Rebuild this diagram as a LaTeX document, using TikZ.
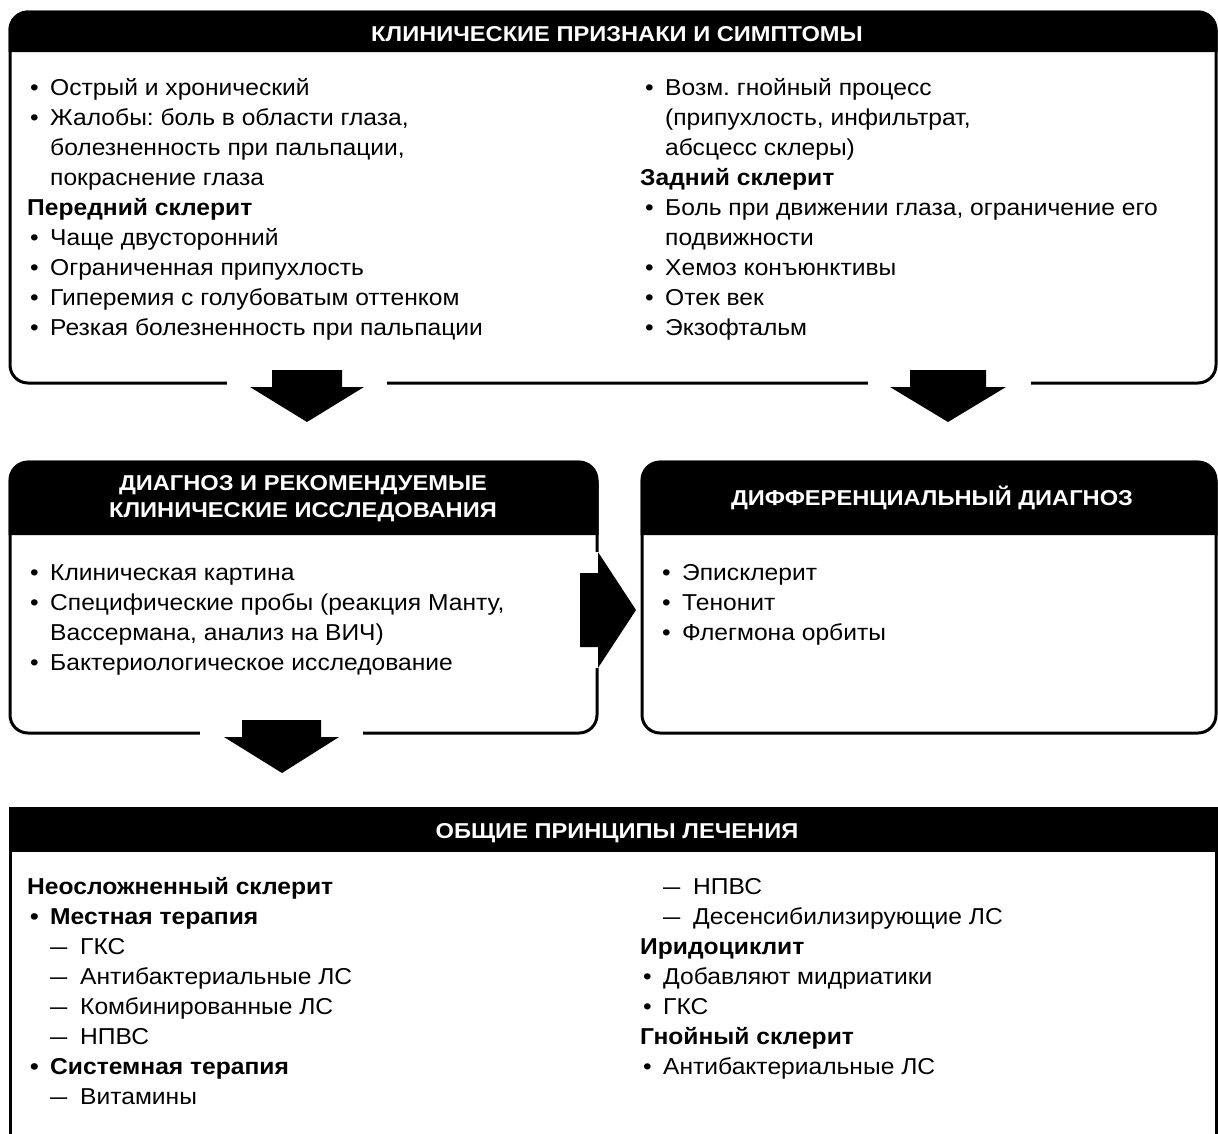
\documentclass[tikz,border=0pt]{standalone}
\usepackage{graphicx}
\usepackage{fontspec}
\setmainfont{Liberation Sans}[FakeStretch=1.07]
\newfontfamily\ttlfont{Liberation Sans}[FakeStretch=1.1]
\usetikzlibrary{calc}
\frenchspacing
\newcommand{\bl}{\hspace*{3pt}\makebox[20pt][l]{•}}
\newcommand{\ind}{\hspace*{23pt}}
\newcommand{\dsh}{\hspace*{23pt}\makebox[30pt][l]{\scalebox{0.7}[1]{—}}}
\newcommand{\col}[2]{\parbox[t]{#1}{\raggedright\frenchspacing #2}}
\begin{document}
\begin{tikzpicture}[x=1pt,y=-1pt,
  frame/.style={draw, line width=3pt, rounded corners=18pt, inner sep=0pt, outer sep=0pt, anchor=north west},
  hdr/.style={fill=black},
  ttl/.style={text=white, font=\ttlfont\bfseries\fontsize{21.5}{27}\selectfont, align=center, inner sep=0pt},
  txt/.style={anchor=base west, inner sep=0pt, font=\fontsize{23}{30.1}\selectfont},
  gap/.style={fill=white},
  blk/.style={fill=black}
]
\clip (0,0) rectangle (1218,1133);
\fill[white] (0,0) rectangle (1218,1133);

% ---------- boxes ----------
\node[frame, minimum width=1206pt, minimum height=371pt] (clin) at (10,12) {};
\node[frame, minimum width=587pt, minimum height=271pt] (diag) at (10,462) {};
\node[frame, minimum width=574pt, minimum height=271pt] (diff) at (642,462) {};
\node[frame, rounded corners=0pt, minimum width=1206pt, minimum height=360pt] (treat) at (10,808) {};

% ---------- headers ----------
\fill[hdr] (8.5,52) [rounded corners=19.5pt] -- (8.5,10.5) -- (1217.5,10.5) [sharp corners] -- (1217.5,52) -- cycle;
\fill[hdr] (8.5,535) [rounded corners=22pt] -- (8.5,460.5) -- (598.5,460.5) [sharp corners] -- (598.5,535) -- cycle;
\fill[hdr] (640.5,535) [rounded corners=22pt] -- (640.5,460.5) -- (1217.5,460.5) [sharp corners] -- (1217.5,535) -- cycle;
\fill[hdr] (8.5,806.5) rectangle (1217.5,852);

\node[ttl, anchor=base] (t1) at (617,41) {КЛИНИЧЕСКИЕ ПРИЗНАКИ И СИМПТОМЫ};
\node[ttl, anchor=center] (t2) at (303,499) {ДИАГНОЗ И РЕКОМЕНДУЕМЫЕ\\КЛИНИЧЕСКИЕ ИССЛЕДОВАНИЯ};
\node[ttl, anchor=base] (t3) at (932,505) {ДИФФЕРЕНЦИАЛЬНЫЙ ДИАГНОЗ};
\node[ttl, anchor=base] (t4) at (617,838) {ОБЩИЕ ПРИНЦИПЫ ЛЕЧЕНИЯ};

% ---------- texts ----------
\node[txt] (c1) at (27,95) {\col{590pt}{%
\bl Острый и хронический\\
\bl Жалобы: боль в области глаза,\\
\ind болезненность при пальпации,\\
\ind покраснение глаза\\
\textbf{Передний склерит}\\
\bl Чаще двусторонний\\
\bl Ограниченная припухлость\\
\bl Гиперемия с голубоватым оттенком\\
\bl Резкая болезненность при пальпации}};

\node[txt] (c2) at (642,95) {\col{570pt}{%
\bl Возм. гнойный процесс\\
\ind (припухлость, инфильтрат,\\
\ind абсцесс склеры)\\
\hspace*{-2pt}\textbf{Задний склерит}\\
\bl Боль при движении глаза, ограничение его\\
\ind подвижности\\
\bl Хемоз конъюнктивы\\
\bl Отек век\\
\bl Экзофтальм}};

\node[txt] (d1) at (27,580) {\col{560pt}{%
\bl Клиническая картина\\
\bl Специфические пробы (реакция Манту,\\
\ind Вассермана, анализ на ВИЧ)\\
\bl Бактериологическое исследование}};

\node[txt] (d2) at (659,580) {\col{540pt}{%
\bl Эписклерит\\
\bl Тенонит\\
\bl Флегмона орбиты}};

\node[txt] (e1) at (27,894) {\col{590pt}{%
\textbf{Неосложненный склерит}\\
\textbf{\bl Местная терапия}\\
\dsh ГКС\\
\dsh Антибактериальные ЛС\\
\dsh Комбинированные ЛС\\
\dsh НПВС\\
\textbf{\bl Системная терапия}\\
\dsh Витамины}};

\node[txt] (e2) at (640,894) {\col{570pt}{%
\dsh НПВС\\
\dsh Десенсибилизирующие ЛС\\
\textbf{Иридоциклит}\\
\bl Добавляют мидриатики\\
\bl ГКС\\
\textbf{Гнойный склерит}\\
\bl Антибактериальные ЛС}};

% ---------- block arrows ----------
\coordinate (a1) at ($(clin.south west)+(297,4)$);
\coordinate (a2) at ($(clin.south west)+(938,4)$);
\coordinate (a3) at ($(diag.east)+(1,12.5)$);
\coordinate (a4) at ($(diag.south west)+(272,4)$);

\fill[gap] ($(a1)+(-80,-10)$) rectangle ($(a1)+(80,6)$);
\fill[gap] ($(a2)+(-80,-10)$) rectangle ($(a2)+(83,6)$);
\fill[gap] ($(a3)+(-8,-58)$) rectangle ($(a3)+(6,58)$);
\fill[gap] ($(a4)+(-82,-10)$) rectangle ($(a4)+(81,6)$);

\fill[blk, shift={(a1)}] (-35,-17) -- (35,-17) -- (35,0) -- (57,0) -- (0,35) -- (-57,0) -- (-35,0) -- cycle;
\fill[blk, shift={(a2)}] (-38,-17) -- (38,-17) -- (38,0) -- (58,0) -- (0,35) -- (-58,0) -- (-38,0) -- cycle;
\fill[blk, shift={(a4)}] (-40,-17) -- (39,-17) -- (39,0) -- (57,0) -- (0,36) -- (-58,0) -- (-40,0) -- cycle;
\fill[blk, shift={(a3)}] (-18,-37) -- (0,-37) -- (0,-58) -- (38,0) -- (0,58) -- (0,37) -- (-18,37) -- cycle;
\end{tikzpicture}
\end{document}
